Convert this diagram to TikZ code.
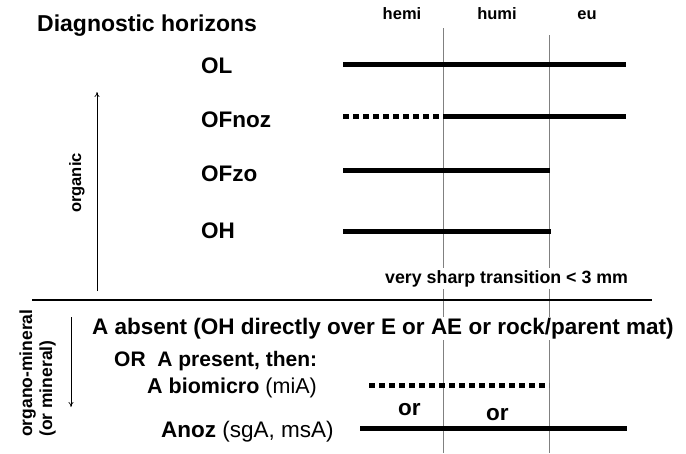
\documentclass[tikz,border=0pt]{standalone}
\usepackage{fontspec}
\setmainfont{Liberation Sans}
\usetikzlibrary{arrows.meta,positioning}

\begin{document}
\begin{tikzpicture}[x=1pt, y=-1pt,
      font=\bfseries\fontsize{22.5}{26}\selectfont,
      lab/.style={anchor=base west, inner sep=1pt, fill=white},
      head/.style={font=\bfseries\fontsize{16.5}{19}\selectfont, anchor=base},
      side/.style={font=\bfseries\fontsize{17.5}{20}\selectfont, rotate=90, anchor=base west, inner sep=0pt},
      bar/.style={line width=5pt},
      dotbar/.style={line width=5pt, dash pattern=on 6pt off 4pt},
      border/.style={gray, line width=1pt},
      arr/.style={-{To[length=5pt,width=5pt]}, line width=0.7pt}
    ]
    \useasboundingbox (0,0) rectangle (686,453);

    % class borders
    \coordinate (b1top) at (443,28);
    \coordinate (b1bot) at (443,453);
    \coordinate (b2top) at (549,35);
    \coordinate (b2bot) at (549,453);
    \draw[border] (b1top) -- (b1bot);
    \draw[border] (b2top) -- (b2bot);

    % headings
    \node[lab, font=\bfseries\fontsize{23}{26}\selectfont] (title) at (36,31) {Diagnostic horizons};
    \node[head] (hemi) at (402,19) {hemi};
    \node[head] (humi) at (497,19) {humi};
    \node[head] (eu)   at (587,19) {eu};

    % organic horizons
    \node[lab] (ol)    at (200,73)  {OL};
    \node[lab] (ofnoz) at (200,127) {OFnoz};
    \node[lab] (ofzo)  at (200,181) {OFzo};
    \node[lab] (oh)    at (200,238) {OH};

    \coordinate (olA) at (343,64);   \coordinate (olB) at (626,64);
    \coordinate (ofA) at (343,116);  \coordinate (ofM) at (443,116);
    \coordinate (ofB) at (626,116);
    \coordinate (ozA) at (343,170);  \coordinate (ozB) at (550,170);
    \coordinate (ohA) at (343,231);  \coordinate (ohB) at (551,231);
    \draw[bar] (olA) -- (olB);
    \draw[dotbar] (ofA) -- (ofM);
    \draw[bar] (ofM) -- (ofB);
    \draw[bar] (ozA) -- (ozB);
    \draw[bar] (ohA) -- (ohB);

    \node[head, anchor=base west, fill=white, inner sep=2pt,
          font=\bfseries\fontsize{17.8}{20}\selectfont] (sharp) at (383,283)
          {very sharp transition < 3 mm};

    % organic arrow
    \coordinate (orgA) at (97,291);
    \coordinate (orgB) at (97,92);
    \draw[arr] (orgA) -- (orgB);
    \node[side, font=\bfseries\fontsize{16.5}{19}\selectfont] (organic) at (81,213) {organic};

    % separator
    \coordinate (sepA) at (32,300);
    \coordinate (sepB) at (652,300);
    \draw[line width=1.5pt] (sepA) -- (sepB);

    % organo-mineral horizons
    \node[side] (orgmin) at (32,437) {organo-mineral};
    \node[side] (ormin)  at (52,437) {(or mineral)};
    \coordinate (minA) at (71,317);
    \coordinate (minB) at (71,407);
    \draw[arr] (minA) -- (minB);

    \node[lab] (absent)  at (91,334)  {A absent (OH directly over E or AE or rock/parent mat)};
    \node[lab, font=\bfseries\fontsize{21}{24}\selectfont] (present) at (113,366) {OR\ \ A present, then:};
    \node[lab, font=\bfseries\fontsize{21.5}{24}\selectfont] (biomic)  at (146,393) {A biomicro \mdseries(miA)};
    \node[lab] (anoz)    at (160,437) {Anoz \mdseries(sgA, msA)};
    \node[lab] (or1)     at (397,415) {or};
    \node[lab] (or2)     at (485,420) {or};

    \coordinate (miA) at (369,385);  \coordinate (miB) at (549,385);
    \coordinate (anA) at (360,428);  \coordinate (anB) at (627,428);
    \draw[dotbar] (miA) -- (miB);
    \draw[bar] (anA) -- (anB);
  \end{tikzpicture}
\end{document}
